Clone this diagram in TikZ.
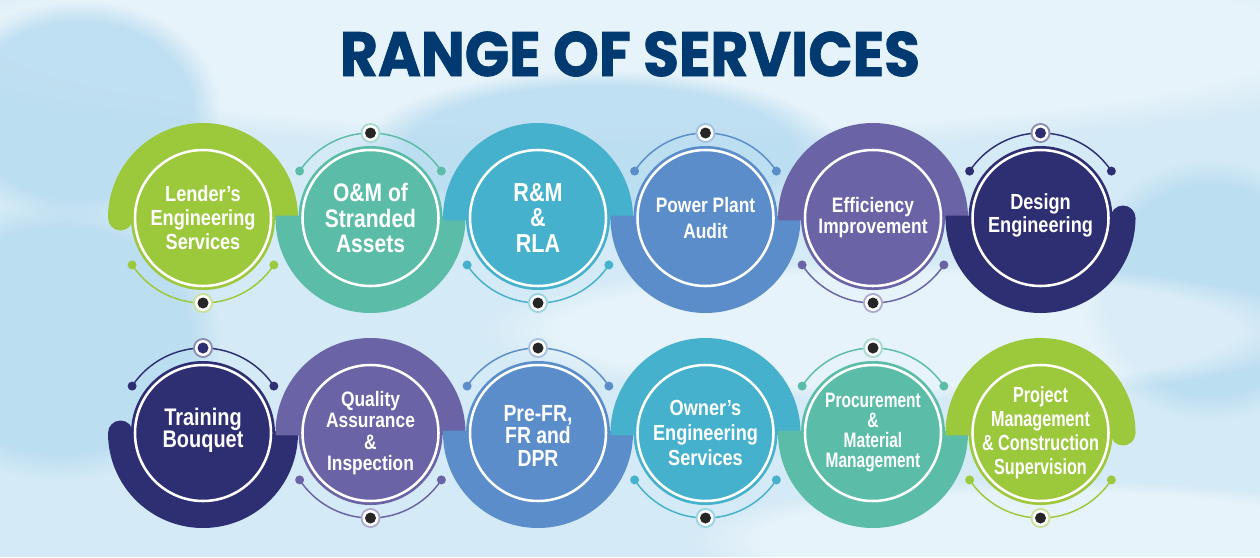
\documentclass[tikz,border=0pt]{standalone}
\usepackage{fontspec}
\usetikzlibrary{fadings}
\newfontfamily\cardfont[FakeStretch=0.83]{Liberation Sans}
\newfontfamily\narrowfont[FakeStretch=0.74]{Liberation Sans}
\newfontfamily\titlefont[FakeStretch=0.93,FakeBold=1.2]{Poppins}
\definecolor{cLime}{HTML}{9CC83C}
\definecolor{cTeal}{HTML}{5BBDA7}
\definecolor{cCyan}{HTML}{45B1CC}
\definecolor{cBlue}{HTML}{5A8DCA}
\definecolor{cPurple}{HTML}{6A63A5}
\definecolor{cNavy}{HTML}{2E2E72}
\definecolor{cTitle}{HTML}{003A70}
\definecolor{cSky}{HTML}{D4EAF6}
\definecolor{cDeep}{HTML}{B6DBF0}

\begin{document}
\begin{tikzpicture}[x=0.75pt,y=0.75pt,yscale=-1,xscale=1,
  card/.style={text=white,align=center,inner sep=0pt},
  ring/.style={draw=white,line width=1.9pt},
  link/.style={line width=1.1pt},
  hub/.style={fill=black!85},
  wash/.style={fill=cDeep,path fading=circle with fuzzy edge 20 percent,fill opacity=0.8},
  glow/.style={fill=white,path fading=circle with fuzzy edge 20 percent,fill opacity=0.45}]

%Background
\fill[cSky] (0,0) rectangle (1260,557);
\useasboundingbox (0,0) rectangle (1260,557);
\fill[glow] (640,40) ellipse (800 and 110);
\fill[wash] (60,340) ellipse (160 and 140);
\fill[wash] (1210,290) ellipse (130 and 130);
\fill[wash] (600,150) ellipse (240 and 80);
\fill[wash] (80,110) ellipse (140 and 110);
\fill[glow] (900,330) ellipse (420 and 70);
\fill[glow] (1050,540) ellipse (360 and 60);

% Title
\node[font=\titlefont\bfseries\fontsize{47}{50}\selectfont,text=cTitle] (title) at (630,54) {RANGE OF SERVICES};

%Centres
\coordinate (p1) at (203,218); \coordinate (p2) at (370.5,218); \coordinate (p3) at (538,218);
\coordinate (p4) at (705.5,218); \coordinate (p5) at (873,218); \coordinate (p6) at (1040.5,218);
\coordinate (q1) at (203,433); \coordinate (q2) at (370.5,433); \coordinate (q3) at (538,433);
\coordinate (q4) at (705.5,433); \coordinate (q5) at (873,433); \coordinate (q6) at (1040.5,433);

%Bands, top row
\fill[cLime] (p1) ++(1.5:95) arc (1.5:-180:95) -- ++(25,0) arc (-180:1.5:70) -- cycle;
\fill[cLime] (p1) ++(-82.5,0) circle (12.5);
\fill[cTeal] (p2) ++(-1.5:95) arc (-1.5:181.5:95) -- ++(25,0) arc (181.5:-1.5:70) -- cycle;
\fill[cCyan] (p3) ++(1.5:95) arc (1.5:-181.5:95) -- ++(25,0) arc (-181.5:1.5:70) -- cycle;
\fill[cBlue] (p4) ++(-1.5:95) arc (-1.5:181.5:95) -- ++(25,0) arc (181.5:-1.5:70) -- cycle;
\fill[cPurple] (p5) ++(1.5:95) arc (1.5:-181.5:95) -- ++(25,0) arc (-181.5:1.5:70) -- cycle;
\fill[cNavy] (p6) ++(0:95) arc (0:181.5:95) -- ++(25,0) arc (181.5:0:70) -- cycle;
\fill[cNavy] (p6) ++(82.5,0) circle (12.5);

%Bands, bottom row
\fill[cNavy] (q1) ++(-1.5:95) arc (-1.5:180:95) -- ++(25,0) arc (180:-1.5:70) -- cycle;
\fill[cNavy] (q1) ++(-82.5,0) circle (12.5);
\fill[cPurple] (q2) ++(1.5:95) arc (1.5:-181.5:95) -- ++(25,0) arc (-181.5:1.5:70) -- cycle;
\fill[cBlue] (q3) ++(-1.5:95) arc (-1.5:181.5:95) -- ++(25,0) arc (181.5:-1.5:70) -- cycle;
\fill[cCyan] (q4) ++(1.5:95) arc (1.5:-181.5:95) -- ++(25,0) arc (-181.5:1.5:70) -- cycle;
\fill[cTeal] (q5) ++(-1.5:95) arc (-1.5:181.5:95) -- ++(25,0) arc (181.5:-1.5:70) -- cycle;
\fill[cLime] (q6) ++(0:95) arc (0:-181.5:95) -- ++(25,0) arc (-181.5:0:70) -- cycle;
\fill[cLime] (q6) ++(82.5,0) circle (12.5);

%Dot arcs, top row
\draw[link,cLime] (p1) ++(33.5:85) arc (33.5:146.5:85);
\fill[cLime] (p1) ++(33.5:85) circle (4.5) (p1) ++(146.5:85) circle (4.5);
\fill[cLime!55] (p1) ++(90:85) circle (10); \fill[white] (p1) ++(90:85) circle (8); \fill[hub] (p1) ++(90:85) circle (5.5);
\draw[link,cTeal] (p2) ++(-33.5:85) arc (-33.5:-146.5:85);
\fill[cTeal] (p2) ++(-33.5:85) circle (4.5) (p2) ++(-146.5:85) circle (4.5);
\fill[cTeal!55] (p2) ++(-90:85) circle (10); \fill[white] (p2) ++(-90:85) circle (8); \fill[hub] (p2) ++(-90:85) circle (5.5);
\draw[link,cCyan] (p3) ++(33.5:85) arc (33.5:146.5:85);
\fill[cCyan] (p3) ++(33.5:85) circle (4.5) (p3) ++(146.5:85) circle (4.5);
\fill[cCyan!55] (p3) ++(90:85) circle (10); \fill[white] (p3) ++(90:85) circle (8); \fill[hub] (p3) ++(90:85) circle (5.5);
\draw[link,cBlue] (p4) ++(-33.5:85) arc (-33.5:-146.5:85);
\fill[cBlue] (p4) ++(-33.5:85) circle (4.5) (p4) ++(-146.5:85) circle (4.5);
\fill[cBlue!55] (p4) ++(-90:85) circle (10); \fill[white] (p4) ++(-90:85) circle (8); \fill[hub] (p4) ++(-90:85) circle (5.5);
\draw[link,cPurple] (p5) ++(33.5:85) arc (33.5:146.5:85);
\fill[cPurple] (p5) ++(33.5:85) circle (4.5) (p5) ++(146.5:85) circle (4.5);
\fill[cPurple!55] (p5) ++(90:85) circle (10); \fill[white] (p5) ++(90:85) circle (8); \fill[hub] (p5) ++(90:85) circle (5.5);
\draw[link,cNavy] (p6) ++(-33.5:85) arc (-33.5:-146.5:85);
\fill[cNavy] (p6) ++(-33.5:85) circle (4.5) (p6) ++(-146.5:85) circle (4.5);
\fill[cNavy!55] (p6) ++(-90:85) circle (10); \fill[white] (p6) ++(-90:85) circle (8); \fill[cNavy] (p6) ++(-90:85) circle (5.5);

%Dot arcs, bottom row
\draw[link,cNavy] (q1) ++(-33.5:85) arc (-33.5:-146.5:85);
\fill[cNavy] (q1) ++(-33.5:85) circle (4.5) (q1) ++(-146.5:85) circle (4.5);
\fill[cNavy!55] (q1) ++(-90:85) circle (10); \fill[white] (q1) ++(-90:85) circle (8); \fill[cNavy] (q1) ++(-90:85) circle (5.5);
\draw[link,cPurple] (q2) ++(33.5:85) arc (33.5:146.5:85);
\fill[cPurple] (q2) ++(33.5:85) circle (4.5) (q2) ++(146.5:85) circle (4.5);
\fill[cPurple!55] (q2) ++(90:85) circle (10); \fill[white] (q2) ++(90:85) circle (8); \fill[hub] (q2) ++(90:85) circle (5.5);
\draw[link,cBlue] (q3) ++(-33.5:85) arc (-33.5:-146.5:85);
\fill[cBlue] (q3) ++(-33.5:85) circle (4.5) (q3) ++(-146.5:85) circle (4.5);
\fill[cBlue!55] (q3) ++(-90:85) circle (10); \fill[white] (q3) ++(-90:85) circle (8); \fill[hub] (q3) ++(-90:85) circle (5.5);
\draw[link,cCyan] (q4) ++(33.5:85) arc (33.5:146.5:85);
\fill[cCyan] (q4) ++(33.5:85) circle (4.5) (q4) ++(146.5:85) circle (4.5);
\fill[cCyan!55] (q4) ++(90:85) circle (10); \fill[white] (q4) ++(90:85) circle (8); \fill[hub] (q4) ++(90:85) circle (5.5);
\draw[link,cTeal] (q5) ++(-33.5:85) arc (-33.5:-146.5:85);
\fill[cTeal] (q5) ++(-33.5:85) circle (4.5) (q5) ++(-146.5:85) circle (4.5);
\fill[cTeal!55] (q5) ++(-90:85) circle (10); \fill[white] (q5) ++(-90:85) circle (8); \fill[hub] (q5) ++(-90:85) circle (5.5);
\draw[link,cLime] (q6) ++(33.5:85) arc (33.5:146.5:85);
\fill[cLime] (q6) ++(33.5:85) circle (4.5) (q6) ++(146.5:85) circle (4.5);
\fill[cLime!55] (q6) ++(90:85) circle (10); \fill[white] (q6) ++(90:85) circle (8); \fill[hub] (q6) ++(90:85) circle (5.5);

%Discs
\fill[cLime] (p1) circle (72); \draw[ring] (p1) circle (68);
\fill[cTeal] (p2) circle (72); \draw[ring] (p2) circle (68);
\fill[cCyan] (p3) circle (72); \draw[ring] (p3) circle (68);
\fill[cBlue] (p4) circle (72); \draw[ring] (p4) circle (68);
\fill[cPurple] (p5) circle (72); \draw[ring] (p5) circle (68);
\fill[cNavy] (p6) circle (72); \draw[ring] (p6) circle (68);
\fill[cNavy] (q1) circle (72); \draw[ring] (q1) circle (68);
\fill[cPurple] (q2) circle (72); \draw[ring] (q2) circle (68);
\fill[cBlue] (q3) circle (72); \draw[ring] (q3) circle (68);
\fill[cCyan] (q4) circle (72); \draw[ring] (q4) circle (68);
\fill[cTeal] (q5) circle (72); \draw[ring] (q5) circle (68);
\fill[cLime] (q6) circle (72); \draw[ring] (q6) circle (68);

% Text Node
\node[card,font=\cardfont\bfseries\fontsize{16.4}{18}\selectfont] (lender) at (p1) {Lender’s\\Engineering\\Services};
\node[card,font=\cardfont\bfseries\fontsize{19}{19}\selectfont] (stranded) at (p2) {O\&M of\\Stranded\\Assets};
\node[card,font=\cardfont\bfseries\fontsize{19.5}{18.8}\selectfont] (rla) at (p3) {R\&M\\\&\\RLA};
\node[card,font=\cardfont\bfseries\fontsize{15.7}{19.5}\selectfont] (audit) at (p4) {Power Plant\\Audit};
\node[card,font=\cardfont\bfseries\fontsize{15.7}{15.8}\selectfont] (efficiency) at (p5) {Efficiency\\Improvement};
\node[card,font=\cardfont\bfseries\fontsize{16.4}{17.3}\selectfont] (design) at ([yshift=-2]p6) {Design\\Engineering};
\node[card,font=\cardfont\bfseries\fontsize{18}{16.5}\selectfont] (training) at ([yshift=-2]q1) {Training\\Bouquet};
\node[card,font=\cardfont\bfseries\fontsize{15.7}{16}\selectfont] (quality) at (q2) {Quality\\Assurance\\\&\\Inspection};
\node[card,font=\cardfont\bfseries\fontsize{17.5}{17}\selectfont] (prefr) at ([yshift=2]q3) {Pre-FR,\\FR and\\DPR};
\node[card,font=\cardfont\bfseries\fontsize{16.4}{18.5}\selectfont] (owner) at (q4) {Owner’s\\Engineering\\Services};
\node[card,font=\narrowfont\bfseries\fontsize{15.7}{15}\selectfont] (procurement) at (q5) {Procurement\\\&\\Material\\Management};
\node[card,font=\narrowfont\bfseries\fontsize{16.4}{18}\selectfont] (project) at (q6) {Project\\Management\\\& Construction\\Supervision};

\end{tikzpicture}
\end{document}
